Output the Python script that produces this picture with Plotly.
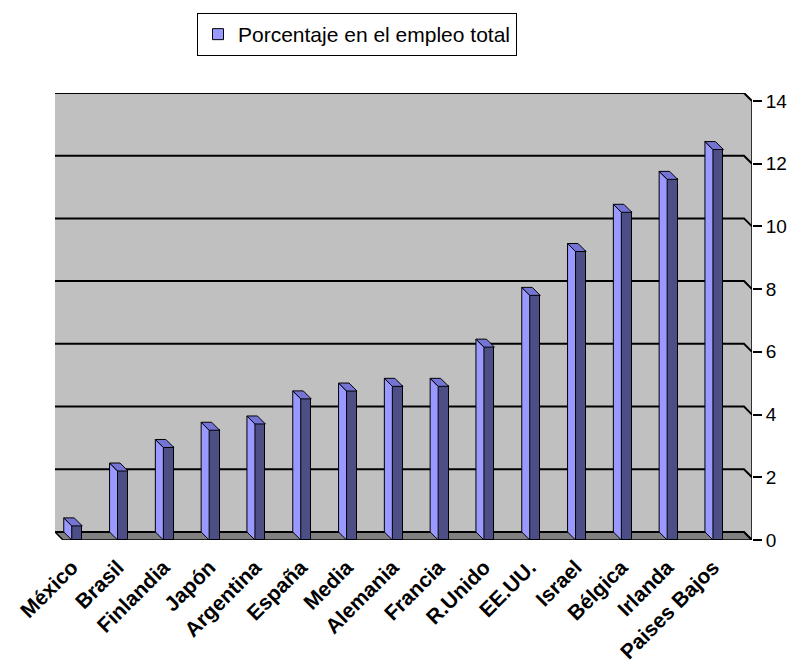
import plotly.graph_objects as go

# ---------------- data ----------------
categories = ["México", "Brasil", "Finlandia", "Japón", "Argentina", "España", "Media",
              "Alemania", "Francia", "R.Unido", "EE.UU.", "Israel", "Bélgica", "Irlanda",
              "Paises Bajos"]
values = [0.45, 2.2, 2.95, 3.5, 3.7, 4.5, 4.75, 4.9, 4.9, 6.15, 7.8, 9.2, 10.45, 11.5, 12.45]
y_ticks = [0, 2, 4, 6, 8, 10, 12, 14]
series_name = "Porcentaje en el empleo total"

# ---------------- geometry / style ----------------
W, H = 788, 663
ML, MR, MT, MB = 55, 36, 93, 123
CAT_PX = 45.8          # px between categories
FIRST_PX = 77          # px of first front-face centre
UNIT_PX = 31.36        # px per y unit
DEPTH_PX = 8           # 3D depth offset in px
FACE_PX = 10.5         # front face width in px
LABEL_SHIFT_PX = -5    # category label anchor offset

XMIN = (ML - FIRST_PX) / CAT_PX
XMAX = (W - MR - FIRST_PX) / CAT_PX
YMAX = (H - MB - MT) / UNIT_PX
DX = -DEPTH_PX / CAT_PX
DY = DEPTH_PX / UNIT_PX
FW = FACE_PX / CAT_PX

LIGHT = "#9999FF"
DARK = "#4E4E86"
TOPC = "#7474D4"
WALL = "#C0C0C0"
FLOOR = "#808080"
FONT = "Liberation Sans, Arial, sans-serif"

idx = list(range(len(categories)))

fig = go.Figure()

# front faces
fig.add_trace(go.Bar(
    x=idx, y=values, width=FW, marker=dict(color=DARK, line=dict(color="black", width=1)),
    showlegend=False, hovertemplate="%{text}: %{y}<extra></extra>", text=categories,
    textposition="none"))

# side faces and top faces (parallelograms derived from values)
sx, sy, tx, ty = [], [], [], []
for i, v in zip(idx, values):
    x0 = i - FW / 2
    x1 = i + FW / 2
    sx += [x0, x0, x0 + DX, x0 + DX, x0, None]
    sy += [0, v, v + DY, DY, 0, None]
    tx += [x0, x1, x1 + DX, x0 + DX, x0, None]
    ty += [v, v, v + DY, v + DY, v, None]

fig.add_trace(go.Scatter(x=sx, y=sy, mode="lines", fill="toself", fillcolor=LIGHT,
                         line=dict(color="black", width=1), hoverinfo="skip", showlegend=False))
fig.add_trace(go.Scatter(x=tx, y=ty, mode="lines", fill="toself", fillcolor=TOPC,
                         line=dict(color="black", width=1), hoverinfo="skip", showlegend=False))

# legend entry (square swatch)
fig.add_trace(go.Scatter(x=[None], y=[None], name=series_name, mode="markers",
                         marker=dict(symbol="square", size=11, color=LIGHT,
                                     line=dict(color="black", width=1)),
                         showlegend=True))

shapes = []
# back + right wall
shapes.append(dict(type="path", xref="x", yref="y", layer="below",
                   path=f"M{XMIN},{DY} L{XMIN},{YMAX} L{XMAX+DX},{YMAX} L{XMAX},{YMAX-DY} L{XMAX},0 L{XMAX+DX},{DY} Z",
                   fillcolor=WALL, line=dict(width=0)))
# floor
shapes.append(dict(type="path", xref="x", yref="y", layer="below",
                   path=f"M{XMIN},{DY} L{XMAX+DX},{DY} L{XMAX},0 L{XMIN-DX},0 Z",
                   fillcolor=FLOOR, line=dict(color="black", width=1.5)))
# gridlines on back wall with diagonal to the axis
for t in y_ticks:
    shapes.append(dict(type="path", xref="x", yref="y", layer="below",
                       path=f"M{XMIN},{t+DY} L{XMAX+DX},{t+DY} L{XMAX},{t}",
                       line=dict(color="black", width=2)))
# value axis line
shapes.append(dict(type="line", xref="x", yref="y", layer="below",
                   x0=XMAX, x1=XMAX, y0=0, y1=y_ticks[-1], line=dict(color="black", width=1.5)))

fig.update_layout(
    width=W, height=H, margin=dict(l=ML, r=MR, t=MT, b=MB, autoexpand=False),
    paper_bgcolor="white", plot_bgcolor="white",
    shapes=shapes, bargap=0,
    font=dict(family=FONT, color="black"),
    legend=dict(x=(197 - ML) / (W - ML - MR), y=(H - MB - 13) / (H - MB - MT),
                xanchor="left", yanchor="top", bordercolor="black", borderwidth=1,
                bgcolor="white", font=dict(size=21, family=FONT, color="black")),
    xaxis=dict(range=[XMIN, XMAX], tickvals=[i + LABEL_SHIFT_PX / CAT_PX for i in idx],
               ticktext=categories, tickangle=-45,
               showgrid=False, zeroline=False, showline=False, ticks="",
               tickfont=dict(family=FONT, size=21, color="black", weight="bold"),
               ticklabelstandoff=10, fixedrange=True),
    yaxis=dict(range=[0, YMAX], side="right", tickvals=y_ticks, ticks="outside",
               ticklen=9, tickwidth=1.5, tickcolor="black", showgrid=False, zeroline=False,
               showline=False, tickfont=dict(family=FONT, size=19, color="black"),
               fixedrange=True),
)

fig.write_html("out.html")
